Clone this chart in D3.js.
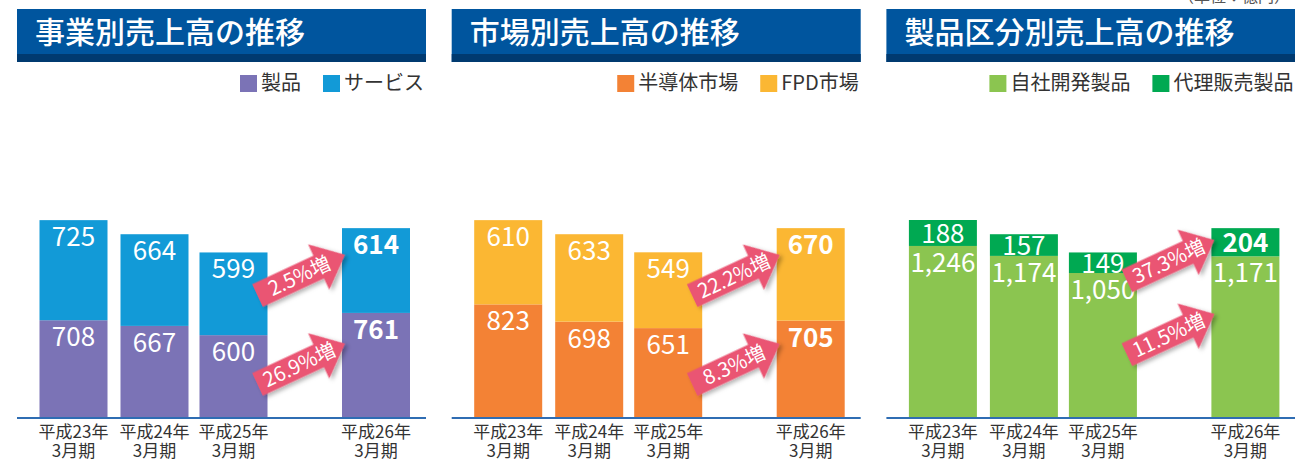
<!DOCTYPE html>
<html>
<head>
<meta charset="utf-8">
<script src="https://cdn.jsdelivr.net/npm/d3@7"></script>
<style>
  body { margin: 0; background: #fff; }
  svg { display: block; }
  text { font-family: "Noto Sans CJK JP", "Noto Sans", sans-serif; }
</style>
</head>
<body>
<svg id="chart" width="1295" height="462"></svg>
<script>
// data (億円)
const years = ["平成23年", "平成24年", "平成25年", "平成26年"];
const periodLabel = "3月期";
const titles = ["事業別売上高の推移", "市場別売上高の推移", "製品区分別売上高の推移"];
const seriesNames = [["製品", "サービス"], ["半導体市場", "FPD市場"], ["自社開発製品", "代理販売製品"]];

const productSales = [708, 667, 600, 761];
const serviceSales = [725, 664, 599, 614];
const semiconductorSales = [823, 698, 651, 705];
const fpdSales = [610, 633, 549, 670];
const ownProductSales = [1246, 1174, 1050, 1171];
const agencyProductSales = [188, 157, 149, 204];

// growth labels: [lower series, upper series]
const growthLabels = [["26.9%増", "2.5%増"], ["8.3%増", "22.2%増"], ["11.5%増", "37.3%増"]];

const panelSeries = [
  [productSales, serviceSales],
  [semiconductorSales, fpdSales],
  [ownProductSales, agencyProductSales]
];
const colors = [["#7b73b6", "#129ad7"], ["#f38235", "#fbb733"], ["#8bc550", "#00a952"]];
// which latest-year labels are set in bold
const boldLatest = [[true, true], [true, true], [false, true]];

(() => {
  const svg = d3.select("#chart");

  const panelLeft = 17, panelStep = 434.7, panelWidth = 409;
  const baseY = 418, topY = 220;

  // drop shadow for the arrows
  const defs = svg.append("defs");
  defs.append("filter").attr("id", "shadow")
      .attr("x", "-20%").attr("y", "-20%").attr("width", "150%").attr("height", "160%")
    .append("feDropShadow")
      .attr("dx", 2).attr("dy", 3).attr("stdDeviation", 2)
      .attr("flood-color", "#000").attr("flood-opacity", 0.3);

  // unit note, cut off at top right
  svg.append("text")
    .attr("x", 1290).attr("y", 2)
    .attr("text-anchor", "end")
    .attr("font-size", 16)
    .attr("fill", "#555")
    .text("（単位：億円）");

  const allTotals = panelSeries.flatMap(s => s[0].map((v, i) => v + s[1][i]));
  const y = d3.scaleLinear()
    .domain([0, d3.max(allTotals)])
    .range([baseY, topY]);

  // bar slots (offset inside a panel)
  const x = d3.scaleOrdinal()
    .domain(years)
    .range([22.5, 103.5, 182.5, 325]);
  const barW = 68;
  const fmt = d3.format(",");

  panelSeries.forEach((series, p) => {
    const g = svg.append("g")
      .attr("transform", "translate(" + (panelLeft + p * panelStep) + ",0)");

    // header
    g.append("rect").attr("x", 0).attr("y", 9).attr("width", panelWidth).attr("height", 53)
      .attr("fill", "#00559e");
    g.append("rect").attr("x", 0).attr("y", 54).attr("width", panelWidth).attr("height", 8)
      .attr("fill", "#003a70");
    g.append("text")
      .attr("x", 18).attr("y", 43)
      .attr("font-size", 30)
      .attr("font-weight", 500)
      .attr("fill", "#fff")
      .text(titles[p]);

    // legend, right aligned
    const legend = g.append("g");
    let cursor = 407;
    for (let s = 1; s >= 0; s--) {
      const t = legend.append("text")
        .attr("y", 90)
        .attr("font-size", 20)
        .attr("fill", "#333")
        .text(seriesNames[p][s]);
      const w = t.node().getComputedTextLength();
      t.attr("x", cursor - w);
      legend.append("rect")
        .attr("x", cursor - w - 21).attr("y", 75)
        .attr("width", 17).attr("height", 17)
        .attr("fill", colors[p][s]);
      cursor = cursor - w - 21 - 22;
    }

    // stacked bars
    const rows = years.map((yr, i) => ({ year: yr, a: series[0][i], b: series[1][i] }));
    const stack = d3.stack().keys(["a", "b"])(rows);

    stack.forEach((layer, s) => {
      g.selectAll(".bar" + s)
        .data(layer)
        .enter()
        .append("rect")
        .attr("x", d => x(d.data.year))
        .attr("y", d => y(d[1]))
        .attr("width", barW)
        .attr("height", d => y(d[0]) - y(d[1]))
        .attr("fill", colors[p][s]);
    });

    stack.forEach((layer, s) => {
      g.selectAll(".lbl" + s)
        .data(layer)
        .enter()
        .append("text")
        .attr("x", d => x(d.data.year) + barW / 2)
        .attr("y", d => {
          const h = y(d[0]) - y(d[1]);
          return y(d[1]) + Math.min(26, h / 2 + 10);
        })
        .attr("text-anchor", "middle")
        .attr("font-family", "'Noto Sans', sans-serif")
        .attr("font-size", 26)
        .attr("font-weight", (d, i) => (i === years.length - 1 && boldLatest[p][s]) ? "bold" : "normal")
        .attr("fill", "#fff")
        .text(d => fmt(d[1] - d[0]));
    });

    // baseline
    g.append("line")
      .attr("x1", 0).attr("x2", panelWidth)
      .attr("y1", baseY).attr("y2", baseY)
      .attr("stroke", "#2f6db3").attr("stroke-width", 2);

    // category labels
    const cat = g.selectAll(".cat")
      .data(years)
      .enter()
      .append("text")
      .attr("text-anchor", "middle")
      .attr("font-size", 17)
      .attr("fill", "#333");
    cat.append("tspan")
      .attr("x", d => x(d) + barW / 2).attr("y", 438)
      .text(d => d);
    cat.append("tspan")
      .attr("x", d => x(d) + barW / 2).attr("y", 457)
      .text(periodLabel);

    // growth arrows between the 3rd and 4th bar
    const prev = stack.map(l => l[2]);
    const last = stack.map(l => l[3]);
    const startX = x(years[2]) + barW - 10;
    const tipX = x(years[3]) + 3;
    const angle = -25;
    const rad = angle * Math.PI / 180;
    const len = (tipX - startX) / Math.cos(rad);
    const headBase = len - 29;

    [0, 1].forEach(s => {
      const c3 = (y(prev[s][0]) + y(prev[s][1])) / 2;
      const c4 = (y(last[s][0]) + y(last[s][1])) / 2;
      let midY = (c3 + c4) / 2 - 7;
      if (s === 1) midY = Math.max(midY, y(prev[1][1]) + 8);
      const startY = midY - (tipX - startX) / 2 * Math.tan(rad);

      const arrow = g.append("g")
        .attr("transform", "translate(" + startX + "," + startY + ") rotate(" + angle + ")");
      arrow.append("path")
        .attr("d", d3.line()([
          [0, -12.5], [headBase, -12.5], [headBase, -25], [len, 0],
          [headBase, 25], [headBase, 12.5], [0, 12.5]
        ]) + "Z")
        .attr("fill", "#ea5573")
        .attr("filter", "url(#shadow)");
      arrow.append("text")
        .attr("x", len / 2 - 2).attr("y", 7)
        .attr("text-anchor", "middle")
        .attr("font-size", 20)
        .attr("fill", "#fff")
        .text(growthLabels[p][s]);
    });
  });
})();
</script>
</body>
</html>
